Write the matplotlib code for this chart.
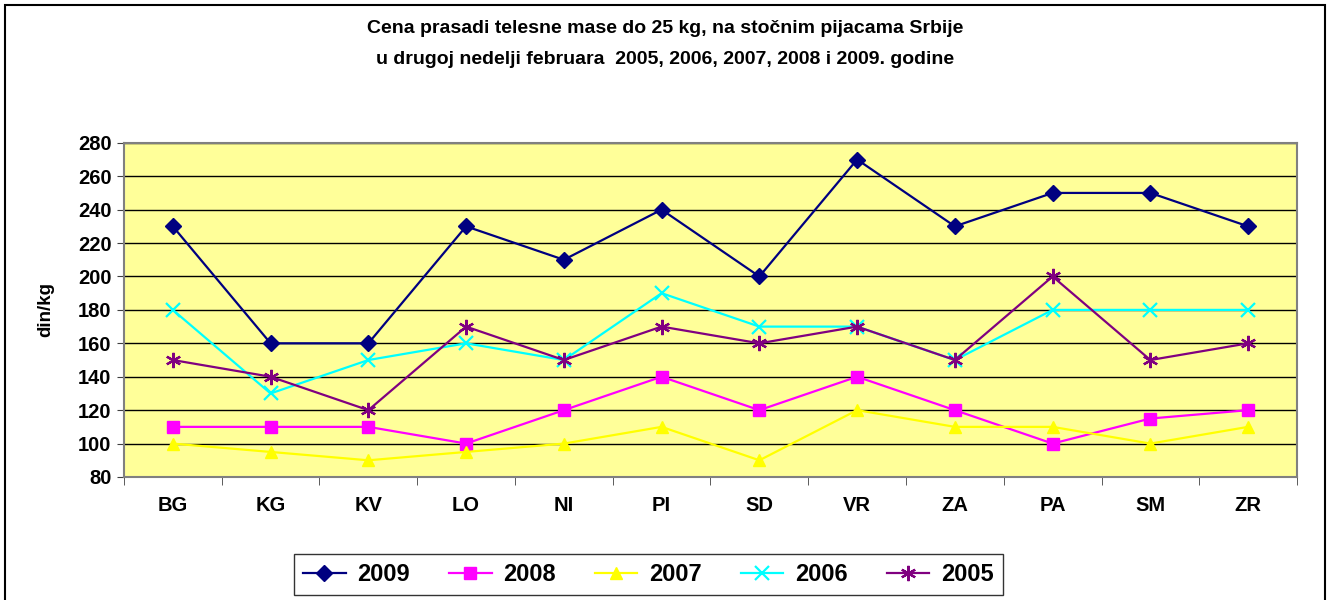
import matplotlib.pyplot as plt
from matplotlib.patches import Rectangle
import numpy as np

plt.rcParams['font.family'] = ['Liberation Sans', 'DejaVu Sans']

cities = ["BG", "KG", "KV", "LO", "NI", "PI", "SD", "VR", "ZA", "PA", "SM", "ZR"]

y2009 = [230, 160, 160, 230, 210, 240, 200, 270, 230, 250, 250, 230]
y2008 = [110, 110, 110, 100, 120, 140, 120, 140, 120, 100, 115, 120]
y2007 = [100, 95, 90, 95, 100, 110, 90, 120, 110, 110, 100, 110]
y2006 = [180, 130, 150, 160, 150, 190, 170, 170, 150, 180, 180, 180]
y2005 = [150, 140, 120, 170, 150, 170, 160, 170, 150, 200, 150, 160]

series = [
    ("2009", y2009, "#000080", "D", 8),
    ("2008", y2008, "#FF00FF", "s", 8),
    ("2007", y2007, "#FFFF00", "^", 9),
    ("2006", y2006, "#00FFFF", "x", 10),
    ("2005", y2005, "#800080", (6, 2, 0), 11),
]

fig = plt.figure(figsize=(13.3, 6), dpi=100)
ax = fig.add_axes([0.0932, 0.205, 0.882, 0.557])
ax.set_facecolor("#FFFF99")

x = np.arange(len(cities))
for name, vals, col, mk, ms in series:
    ax.plot(x, vals, color=col, marker=mk, markersize=ms, linewidth=1.6,
            markeredgewidth=1.6 if mk in ("x", (6, 2, 0)) else 1,
            markeredgecolor=col, label=name)

ax.set_ylim(80, 280)
ax.set_yticks(range(80, 281, 20))
ax.set_xlim(-0.5, len(cities) - 0.5)
ax.set_xticks(x)
ax.set_xticklabels(cities, fontsize=14.5, fontweight="bold")
ax.tick_params(axis="x", length=0, pad=14)
ax.set_xticks(np.arange(-0.5, len(cities), 1), minor=True)
ax.tick_params(axis="x", which="minor", length=6, direction="out", color="#404040")
for lab in ax.get_yticklabels():
    lab.set_fontsize(14.5)
    lab.set_fontweight("bold")
ax.tick_params(axis="y", length=5, direction="out", color="#404040", pad=4)
ax.yaxis.grid(True, color="black", linewidth=1)
ax.set_axisbelow(True)
for s in ax.spines.values():
    s.set_color("#808080")
    s.set_linewidth(1.5)

ax.set_ylabel("din/kg", fontsize=13.5, fontweight="bold", labelpad=17)

fig.text(0.5, 0.953, "Cena prasadi telesne mase do 25 kg, na stočnim pijacama Srbije",
         ha="center", va="center", fontsize=14, fontweight="bold")
fig.text(0.5, 0.9, "u drugoj nedelji februara  2005, 2006, 2007, 2008 i 2009. godine",
         ha="center", va="center", fontsize=14, fontweight="bold")

leg = fig.legend(loc="center", bbox_to_anchor=(0.4875, 0.0425), ncol=5,
                 prop={"size": 17, "weight": "bold"}, frameon=True,
                 fancybox=False, edgecolor="black", handlelength=1.8,
                 columnspacing=1.65, handletextpad=0.5, borderpad=0.4)
leg.get_frame().set_linewidth(1)

fig.patches.append(Rectangle((0.004, -0.02), 0.992, 1.012,
                             transform=fig.transFigure, fill=False,
                             edgecolor="black", linewidth=1.5))

fig.savefig("out.png", dpi=100)
